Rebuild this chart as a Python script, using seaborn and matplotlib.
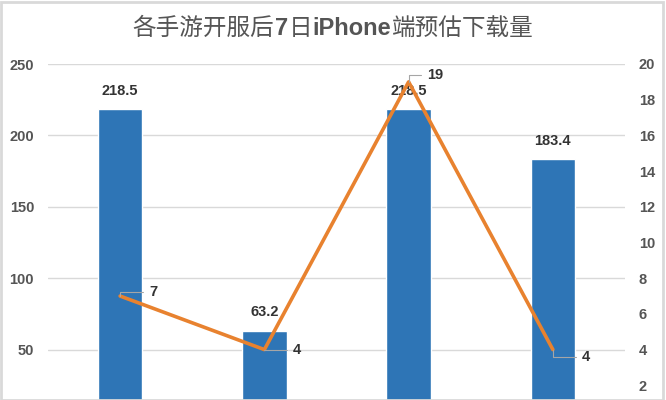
import matplotlib
matplotlib.use("Agg")
import matplotlib.pyplot as plt
import seaborn as sns
import pandas as pd
from matplotlib.patches import Rectangle

categories = ["游戏A", "游戏B", "游戏C", "游戏D"]
downloads = [218.5, 63.2, 218.5, 183.4]
ranks = [7, 4, 19, 4]
left_ticks = [50, 100, 150, 200, 250]
right_ticks = [2, 4, 6, 8, 10, 12, 14, 16, 18, 20]
title_parts = [("各手游开服后", False), ("7", True), ("日", False),
               ("iPhone", True), ("端预估下载量", False)]

sns.set_theme(style="white")
plt.rcParams['font.family'] = ['Noto Sans CJK SC', 'DejaVu Sans']

df = pd.DataFrame({"cat": categories, "dl": downloads, "rank": ranks})

fig = plt.figure(figsize=(6.66, 4.0), dpi=100)
ax = fig.add_axes([48/666, -21/400, 577/666, 357/400])
ax2 = ax.twinx()

sns.barplot(data=df, x="cat", y="dl", ax=ax, color="#2E75B6", width=0.31,
            saturation=1, zorder=2)
ax.set_ylim(0, 250)
ax.set_yticks(left_ticks)
ax.yaxis.grid(True, color="#d9d9d9", linewidth=1)
ax.set_axisbelow(True)
ax.set_xlabel("")
ax.set_ylabel("")
ax.tick_params(axis="y", length=0, pad=10, labelsize=10.5, labelcolor="#555555")
ax.tick_params(axis="x", length=0, labelbottom=False)
for lab in ax.get_yticklabels():
    lab.set_family("Liberation Sans")
    lab.set_fontweight("bold")
for s in ax.spines.values():
    s.set_visible(False)

for i, v in enumerate(downloads):
    ax.text(i, v + 8, f"{v}", ha="center", va="bottom", fontsize=10.5,
            fontweight="bold", color="#333333", family="Liberation Sans")

sns.lineplot(data=df, x="cat", y="rank", ax=ax2, color="#E8822F", linewidth=2.6,
             sort=False, zorder=3)
ax2.set_ylim(0, 20)
ax2.set_yticks(right_ticks)
ax2.set_ylabel("")
ax2.set_xlabel("")
ax2.tick_params(axis="y", length=0, pad=10, labelsize=10.5, labelcolor="#555555")
ax2.tick_params(axis="x", length=0, labelbottom=False)
for lab in ax2.get_yticklabels():
    lab.set_family("Liberation Sans")
    lab.set_fontweight("bold")
for s in ax2.spines.values():
    s.set_visible(False)

offsets = [(0.2, 0.25), (0.2, 0.0), (0.13, 0.4), (0.2, -0.4)]
for i, (v, (dx, dy)) in enumerate(zip(ranks, offsets)):
    ax2.annotate(f"{v}", xy=(i, v), xytext=(i + dx, v + dy), ha="left", va="center",
                 fontsize=10.5, fontweight="bold", color="#333333", family="Liberation Sans",
                 arrowprops=dict(arrowstyle="-", color="#a6a6a6", lw=0.8,
                                 shrinkA=2, shrinkB=0,
                                 connectionstyle="angle,angleA=0,angleB=90,rad=0"))

ax.set_xlim(-0.5, 3.5)

# Title composed of pieces (CJK regular, Latin bold)
renderer = fig.canvas.get_renderer()
texts = []
for s, bold in title_parts:
    if bold:
        t = fig.text(0, 0, s, fontsize=17, fontweight="bold", family="Liberation Sans",
                     color="#555555", va="baseline")
    else:
        t = fig.text(0, 0, s, fontsize=17, family="Noto Sans CJK SC",
                     color="#555555", va="baseline")
    texts.append(t)
widths = [t.get_window_extent(renderer).width for t in texts]
gap = 0.5
total = sum(widths) + gap * (len(widths) - 1)
x = (fig.bbox.width - total) / 2
baseline = 1 - 35/400
for t, w in zip(texts, widths):
    t.set_position((x / fig.bbox.width, baseline))
    x += w + gap

fig.patches.append(Rectangle((0.002, 0.0), 0.994, 0.995, transform=fig.transFigure,
                             fill=False, edgecolor="#d9d9d9", linewidth=2))

fig.savefig("out.png", dpi=100)
